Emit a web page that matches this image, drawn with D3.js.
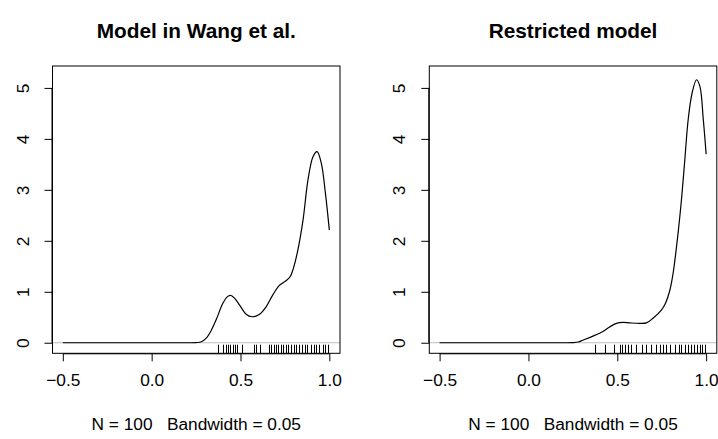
<!DOCTYPE html>
<html>
<head>
<meta charset="utf-8">
<script src="https://cdn.jsdelivr.net/npm/d3@7"></script>
<style>
  body { margin: 0; background: #fff; }
  svg { font-family: "Liberation Sans", Arial, Helvetica, sans-serif; }
</style>
</head>
<body>
<div id="chart"></div>
<script>
// density curve of the Wang et al. model, [x, density]
var wangCurve = [
  [-0.5, 0], [0, 0], [0.2, 0], [0.25, 0.003], [0.28, 0.02], [0.307, 0.09],
  [0.335, 0.24], [0.363, 0.45], [0.40, 0.77], [0.425, 0.9], [0.444, 0.93],
  [0.465, 0.88], [0.495, 0.74], [0.532, 0.56], [0.564, 0.51], [0.607, 0.56],
  [0.645, 0.71], [0.682, 0.94], [0.720, 1.13], [0.758, 1.22], [0.78, 1.3],
  [0.795, 1.43], [0.823, 1.82], [0.852, 2.41], [0.880, 3.20], [0.908, 3.65],
  [0.931, 3.75], [0.955, 3.52], [0.978, 2.93], [1.0, 2.21]
];
// density curve of the restricted model
var restrictedCurve = [
  [-0.5, 0], [0, 0], [0.2, 0], [0.25, 0.003], [0.28, 0.015], [0.306, 0.05],
  [0.363, 0.13], [0.419, 0.22], [0.457, 0.31], [0.495, 0.38], [0.532, 0.40],
  [0.570, 0.39], [0.626, 0.38], [0.664, 0.39], [0.701, 0.48], [0.748, 0.64],
  [0.772, 0.78], [0.795, 1.02], [0.814, 1.36], [0.842, 2.15], [0.861, 2.80],
  [0.880, 3.59], [0.899, 4.38], [0.921, 4.90], [0.946, 5.16], [0.965, 5.03],
  [0.984, 4.38], [1.0, 3.70]
];
// rug positions (observations)
var wangRug = [0.372, 0.404, 0.419, 0.431, 0.442, 0.457, 0.468, 0.480, 0.506,
  0.574, 0.589, 0.611, 0.660, 0.673, 0.686, 0.698, 0.711, 0.726, 0.739, 0.754,
  0.769, 0.786, 0.803, 0.814, 0.829, 0.844, 0.863, 0.874, 0.899, 0.912, 0.927,
  0.942, 0.964, 0.974, 0.993];
var restrictedRug = [0.376, 0.429, 0.479, 0.517, 0.528, 0.541, 0.560, 0.579,
  0.607, 0.641, 0.664, 0.692, 0.720, 0.739, 0.757, 0.776, 0.799, 0.823, 0.848,
  0.861, 0.880, 0.898, 0.912, 0.931, 0.946, 0.964, 0.974, 0.993];

var titles = ["Model in Wang et al.", "Restricted model"];
var subText = "N = 100   Bandwidth = 0.05";
var xTicks = [-0.5, 0.0, 0.5, 1.0];
var yTicks = [0, 1, 2, 3, 4, 5];

var width = 718, height = 439;
var svg = d3.select("#chart").append("svg")
  .attr("width", width).attr("height", height);

var panels = [
  {title: titles[0], curve: wangCurve, rug: wangRug, left: 52.5},
  {title: titles[1], curve: restrictedCurve, rug: restrictedRug, left: 429.3}
];

var boxW = 287.5, boxTop = 66, boxBottom = 353.3;

panels.forEach(function(p) {
  var x = d3.scaleLinear().domain([-0.558, 1.06]).range([p.left, p.left + boxW]);
  var y = d3.scaleLinear().domain([-0.207, 5.43]).range([boxBottom, boxTop]);
  var g = svg.append("g");

  // zero line
  g.append("line")
    .attr("x1", p.left).attr("x2", p.left + boxW)
    .attr("y1", y(0)).attr("y2", y(0))
    .attr("stroke", "#bebebe").attr("stroke-width", 1);

  // rug
  g.selectAll(".rug").data(p.rug).enter().append("line")
    .attr("x1", d => Math.round(x(d)) + 0.5).attr("x2", d => Math.round(x(d)) + 0.5)
    .attr("y1", boxBottom).attr("y2", boxBottom - 8.6)
    .attr("stroke", "#000").attr("stroke-width", 1);

  // density
  var line = d3.line().x(d => x(d[0])).y(d => y(d[1])).curve(d3.curveCatmullRom.alpha(0.5));
  g.append("path").datum(p.curve)
    .attr("d", line).attr("fill", "none")
    .attr("stroke", "#000").attr("stroke-width", 1.2);

  // box
  g.append("rect")
    .attr("x", p.left).attr("y", boxTop)
    .attr("width", boxW).attr("height", boxBottom - boxTop)
    .attr("fill", "none").attr("stroke", "#000").attr("stroke-width", 1);

  // x axis
  var xAxis = d3.axisBottom(x).tickValues(xTicks).tickSize(8).tickPadding(12)
    .tickFormat(d => d3.format(".1f")(d).replace("-", "\u2212"));
  var xa = g.append("g").attr("transform", "translate(0," + boxBottom + ")").call(xAxis);
  xa.select(".domain").attr("d", "M" + x(-0.5) + ",0.5H" + x(1.0));
  xa.selectAll("text").attr("font-size", 17.3).attr("fill", "#000").attr("font-family", null);

  // y axis
  var yAxis = d3.axisLeft(y).tickValues(yTicks).tickSize(8).tickFormat(d3.format("d"));
  var ya = g.append("g").attr("transform", "translate(" + p.left + ",0)").call(yAxis);
  ya.select(".domain").attr("d", "M-0.5," + y(0) + "V" + y(5));
  ya.selectAll("text")
    .attr("x", null).attr("dy", null)
    .attr("text-anchor", "middle")
    .attr("transform", "translate(-24,0) rotate(-90)")
    .attr("font-size", 17.3).attr("fill", "#000").attr("font-family", null);

  // title
  g.append("text")
    .attr("x", p.left + boxW / 2).attr("y", 38)
    .attr("text-anchor", "middle").attr("font-weight", "bold")
    .attr("font-size", 20.8).text(p.title);

  // subtitle
  g.append("text")
    .attr("x", p.left + boxW / 2).attr("y", 430)
    .attr("text-anchor", "middle")
    .style("white-space", "pre")
    .attr("font-size", 17.3).text(subText);
});
</script>
</body>
</html>
